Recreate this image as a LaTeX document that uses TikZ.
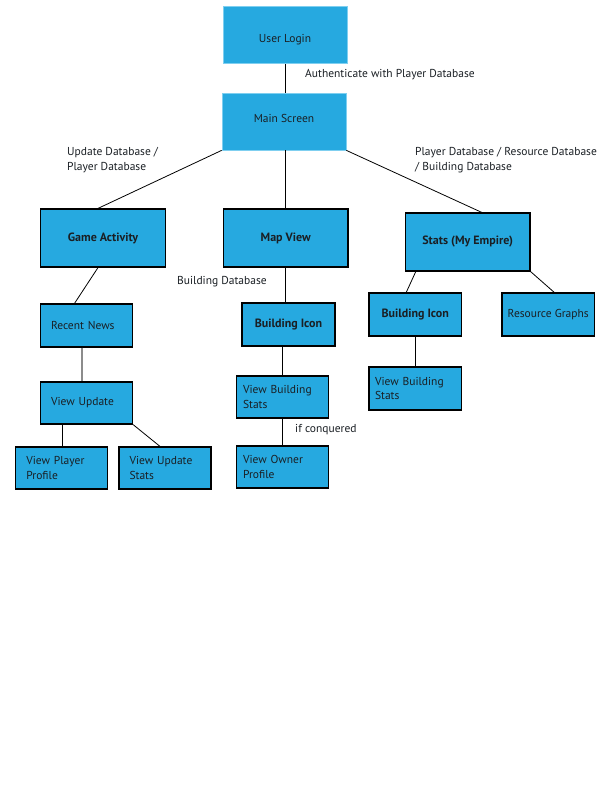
\documentclass[tikz,border=0pt]{standalone}
\usepackage{fontspec}
\setmainfont{PT Sans}
\definecolor{boxblue}{HTML}{26A9E0}
\definecolor{txt}{HTML}{1A1F24}
\definecolor{lightedge}{HTML}{7FCFF0}
\begin{document}
\begin{tikzpicture}[x=1pt,y=-1pt,
  font=\fontsize{11.5}{14.5}\selectfont,
  every node/.style={text=txt},
  topbox/.style={draw=lightedge, line width=0.8pt, fill=boxblue, minimum width=124, minimum height=57, inner sep=0},
  bigbox/.style={draw=black, line width=1.2pt, fill=boxblue, minimum height=58, inner sep=0, font=\fontsize{12}{14.5}\selectfont\bfseries},
  smallbox/.style={draw=black, line width=1.2pt, fill=boxblue, minimum width=92, minimum height=42, inner ysep=0, align=left},
  boldsmall/.style={draw=black, line width=1.2pt, fill=boxblue, minimum width=92.5, minimum height=43, inner sep=0, font=\fontsize{12}{14.5}\selectfont\bfseries},
  lbl/.style={inner sep=0, anchor=west, align=left},
  conn/.style={draw=black, line width=0.8pt},
  grayconn/.style={draw=gray!90, line width=1.4pt}]
\useasboundingbox[fill=white] (0,0) rectangle (612,792);

% top boxes
\node[topbox] (ul) at (285,35) {\raisebox{-7.5pt}[0pt][0pt]{User Login}};
\node[topbox] (ms) at (284,121.5) {\raisebox{-1pt}[0pt][0pt]{Main Screen}};

% second row
\node[bigbox, minimum width=125] (ga) at (103,238) {Game Activity};
\node[bigbox, minimum width=124.5] (mv) at (285.75,238) {Map View};
\node[bigbox, minimum width=124.5] (st) at (467.75,242) {Stats (My Empire)};

% game activity branch
\node[smallbox, text width=71, inner xsep=10.5, minimum height=43] (rn) at (86.5,325.5) {Recent News};
\node[smallbox, text width=71, inner xsep=10.5] (vu) at (86.5,403) {View Update};
\node[smallbox, text width=71, inner xsep=10.5] (vpp) at (61.85,468) {View Player\\Profile};
\node[smallbox, text width=71, inner xsep=10.5] (vus) at (165,468) {View Update\\Stats};

% map view branch
\node[boldsmall, minimum width=93] (bi1) at (288.5,324.5) {Building Icon};
\node[smallbox, text width=79, inner xsep=6.5] (vbs1) at (282.5,397) {View Building\\Stats};
\node[smallbox, text width=79, inner xsep=6.5] (vop) at (282.5,467) {View Owner\\Profile};

% stats branch
\node[boldsmall] (bi2) at (415.25,314.5) {Building Icon};
\node[boldsmall, font=\fontsize{11.5}{14.5}\selectfont] (rg) at (548.25,314.5) {Resource Graphs};
\node[smallbox, text width=80.5, inner xsep=6, minimum width=92.5, minimum height=43] (vbs2) at (415.25,388.5) {View Building\\Stats};

% connectors
\draw[conn] (ul.south) -- (ul.south |- ms.north);
\draw[conn] (ms.south west) -- ([xshift=-5]ga.north);
\draw[conn] (mv.north |- ms.south) -- (mv.north);
\draw[conn] (ms.south east) -- ([xshift=14]st.north);
\draw[conn] ([xshift=-5]ga.south) -- ([xshift=-12]rn.north);
\draw[grayconn] ([xshift=-4.5]rn.south) -- ([xshift=-4.5]vu.north);
\draw[conn] ([xshift=-24.5]vu.south) -- ([xshift=-24.5]vu.south |- vpp.north);
\draw[conn] (vu.south east) -- ([xshift=-5]vus.north);
\draw[conn] (mv.south) -- (mv.south |- bi1.north);
\draw[conn] (vbs1.north |- bi1.south) -- (vbs1.north);
\draw[conn] (vbs1.south) -- (vop.north);
\draw[conn] ([xshift=-52]st.south) -- ([xshift=-9]bi2.north);
\draw[conn] (st.south east) -- ([xshift=6]rg.north);
\draw[conn] (bi2.south) -- (vbs2.north);

% labels
\node[lbl] (l1) at (305,75) {Authenticate with Player Database};
\node[lbl] (l2) at (67,160) {Update Database /\\Player Database};
\node[lbl] (l3) at (415,160) {Player Database / Resource Database\\/ Building Database};
\node[lbl] (l4) at (177,282) {Building Database};
\node[lbl] (l5) at (295,430) {if conquered};
\end{tikzpicture}
\end{document}
